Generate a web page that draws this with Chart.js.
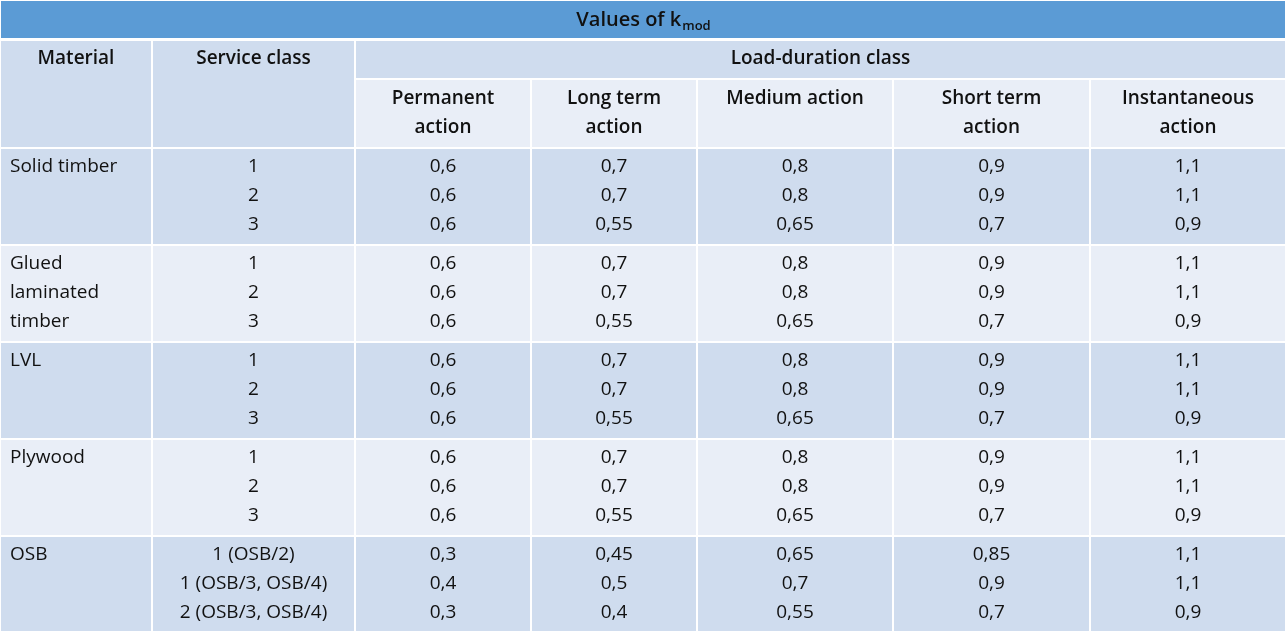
<!DOCTYPE html>
<html><head><meta charset="utf-8">
<script src="https://cdn.jsdelivr.net/npm/chart.js@4"></script>
<style>html,body{margin:0;padding:0;background:#fff}#wrap{width:1286px;height:631px}</style>
</head><body><div id="wrap"><canvas id="out"></canvas></div>
<script>
const title = "Values of k";
const titleSub = "mod";
const headers = ["Material", "Service class"];
const groupHeader = "Load-duration class";
const durations = [["Permanent", "action"], ["Long term", "action"], ["Medium action"], ["Short term", "action"], ["Instantaneous", "action"]];
const materials = [["Solid timber"], ["Glued", "laminated", "timber"], ["LVL"], ["Plywood"], ["OSB"]];
const serviceClasses = [
  ["1", "2", "3"], ["1", "2", "3"], ["1", "2", "3"], ["1", "2", "3"],
  ["1 (OSB/2)", "1 (OSB/3, OSB/4)", "2 (OSB/3, OSB/4)"]
];
const permanent = [[0.6,0.6,0.6],[0.6,0.6,0.6],[0.6,0.6,0.6],[0.6,0.6,0.6],[0.3,0.4,0.3]];
const longTerm = [[0.7,0.7,0.55],[0.7,0.7,0.55],[0.7,0.7,0.55],[0.7,0.7,0.55],[0.45,0.5,0.4]];
const medium = [[0.8,0.8,0.65],[0.8,0.8,0.65],[0.8,0.8,0.65],[0.8,0.8,0.65],[0.65,0.7,0.55]];
const shortTerm = [[0.9,0.9,0.7],[0.9,0.9,0.7],[0.9,0.9,0.7],[0.9,0.9,0.7],[0.85,0.9,0.7]];
const instant = [[1.1,1.1,0.9],[1.1,1.1,0.9],[1.1,1.1,0.9],[1.1,1.1,0.9],[1.1,1.1,0.9]];

// layout (in scale units = pixels)
const colEdges = [0, 152, 355, 531, 697, 893, 1090, 1286];
const rowTop = [148, 245, 342, 439, 536];
const rowH = 96;
const dark = "#cfdcee", light = "#e9eef7", blue = "#5b9bd5";
const FONT = "'Open Sans', Lato, sans-serif";

function fmt(v) { return String(v).replace(".", ","); }

const tablePlugin = {
  id: "table",
  afterDraw(chart) {
    const ctx = chart.ctx, X = chart.scales.x, Y = chart.scales.y;
    const px = v => X.getPixelForValue(v), py = v => Y.getPixelForValue(v);
    function rect(x0, y0, x1, y1, c) {
      ctx.fillStyle = c;
      ctx.fillRect(px(x0) + 1, py(y0) + 1, px(x1) - px(x0) - 2, py(y1) - py(y0) - 2);
    }
    function text(s, x, y, align, weight, size) {
      ctx.font = (weight || "normal") + " " + (size || 19) + "px " + FONT;
      ctx.textAlign = align || "center";
      ctx.textBaseline = "middle";
      ctx.fillStyle = "#111";
      ctx.fillText(s, px(x), py(y));
    }
    ctx.save();
    rect(0, 0, 1286, 39, blue);
    ctx.font = "600 20px " + FONT;
    const tw = ctx.measureText(title).width;
    ctx.font = "600 13px " + FONT;
    const sw = ctx.measureText(titleSub).width;
    text(title, 643 - (tw + sw) / 2, 20, "left", "600", 20);
    text(titleSub, 643 - (tw + sw) / 2 + tw + 1, 26, "left", "600", 13);

    rect(colEdges[0], 40, colEdges[1], 148, dark);
    rect(colEdges[1], 40, colEdges[2], 148, dark);
    rect(colEdges[2], 40, 1286, 79, dark);
    text(headers[0], (colEdges[0] + colEdges[1]) / 2, 59, "center", "600");
    text(headers[1], (colEdges[1] + colEdges[2]) / 2, 59, "center", "600");
    text(groupHeader, (colEdges[2] + 1286) / 2, 59, "center", "600");
    durations.forEach((d, i) => {
      rect(colEdges[i + 2], 79, colEdges[i + 3], 148, light);
      const cx = (colEdges[i + 2] + colEdges[i + 3]) / 2;
      d.forEach((line, j) => text(line, cx, 99 + j * 29, "center", "600"));
    });

    const cols = [permanent, longTerm, medium, shortTerm, instant];
    materials.forEach((m, g) => {
      const t = rowTop[g], bg = g % 2 ? light : dark;
      for (let c = 0; c < 7; c++) rect(colEdges[c], t, colEdges[c + 1], t + rowH + 1, bg);
      m.forEach((line, j) => text(line, 10, t + 19 + j * 29, "left"));
      for (let r = 0; r < 3; r++) {
        const y = t + 19 + r * 29;
        text(serviceClasses[g][r], (colEdges[1] + colEdges[2]) / 2, y);
        cols.forEach((arr, c) => text(fmt(arr[g][r]), (colEdges[c + 2] + colEdges[c + 3]) / 2, y));
      }
    });
    ctx.restore();
  }
};

new Chart(document.getElementById("out"), {
  type: "scatter",
  data: { datasets: [{ data: [], pointRadius: 0 }] },
  options: {
    responsive: true, maintainAspectRatio: false, animation: false,
    layout: { padding: 0 },
    plugins: { legend: { display: false }, tooltip: { enabled: false } },
    scales: {
      x: { type: "linear", min: 0, max: 1286, display: false },
      y: { type: "linear", min: 0, max: 631, reverse: true, display: false }
    }
  },
  plugins: [tablePlugin]
});
</script></body></html>
